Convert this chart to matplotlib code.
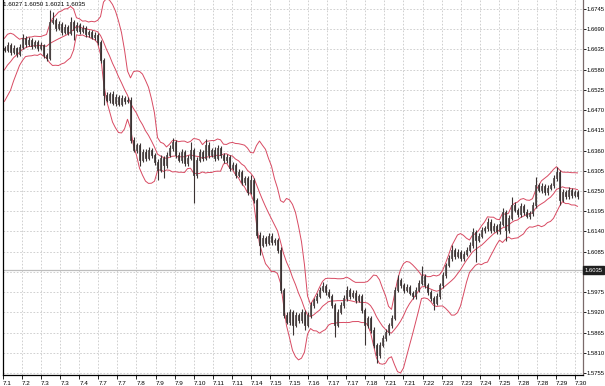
import numpy as np
import pandas as pd
import matplotlib
matplotlib.use("Agg")
import matplotlib.pyplot as plt
from matplotlib.patches import Rectangle
from matplotlib.collections import LineCollection, PatchCollection

# ---------------- data ----------------
date_labels = ['7.1', '7.2', '7.3', '7.3', '7.4', '7.7', '7.7', '7.8', '7.9', '7.9',
               '7.10', '7.11', '7.11', '7.14', '7.15', '7.15', '7.16', '7.17', '7.17',
               '7.18', '7.21', '7.21', '7.22', '7.23', '7.23', '7.24', '7.25', '7.28',
               '7.28', '7.29', '7.30']

price_ticks = [1.5755, 1.5810, 1.5865, 1.5920, 1.5975, 1.6030, 1.6085, 1.6140, 1.6195,
               1.6250, 1.6305, 1.6360, 1.6415, 1.6470, 1.6525, 1.6580, 1.6635, 1.6690,
               1.6745]

header_ohlc = [1.6027, 1.6050, 1.6021, 1.6035]
last_price = 1.6035

# closes before the visible window (only feed the Bollinger bands)
history_close = [1.6519, 1.6538, 1.6530, 1.6552, 1.6566, 1.6585, 1.6606, 1.6628, 1.6639]

close = [
    1.6634, 1.6647, 1.6628, 1.6639, 1.6623, 1.6642, 1.6666, 1.6650, 1.6661, 1.6644,
    1.6655, 1.6639, 1.6647, 1.6620, 1.6612, 1.6710, 1.6715, 1.6693, 1.6704, 1.6682,
    1.6696, 1.6680, 1.6710, 1.6688, 1.6702, 1.6685, 1.6693, 1.6677, 1.6682, 1.6669,
    1.6674, 1.6655, 1.6606, 1.6511, 1.6498, 1.6514, 1.6489, 1.6506, 1.6487, 1.6503,
    1.6495, 1.6498, 1.6389, 1.6362, 1.6375, 1.6334, 1.6356, 1.6340, 1.6362, 1.6348,
    1.6329, 1.6307, 1.6340, 1.6321, 1.6348, 1.6367, 1.6383, 1.6348, 1.6334, 1.6356,
    1.6326, 1.6340, 1.6362, 1.6294, 1.6334, 1.6356, 1.6340, 1.6375, 1.6348, 1.6362,
    1.6340, 1.6367, 1.6348, 1.6334, 1.6342, 1.6313, 1.6321, 1.6294, 1.6302, 1.6274,
    1.6285, 1.6247, 1.6280, 1.6226, 1.6130, 1.6103, 1.6122, 1.6109, 1.6128, 1.6111,
    1.6117, 1.6090, 1.5981, 1.5913, 1.5894, 1.5921, 1.5886, 1.5913, 1.5899, 1.5921,
    1.5886, 1.5913, 1.5940, 1.5954, 1.5964, 1.5981, 1.5992, 1.5975, 1.5964, 1.5940,
    1.5886, 1.5921, 1.5940, 1.5959, 1.5981, 1.5964, 1.5973, 1.5954, 1.5964, 1.5926,
    1.5886, 1.5905, 1.5872, 1.5831, 1.5804, 1.5831, 1.5850, 1.5866, 1.5886, 1.5905,
    1.5981, 1.6008, 1.5994, 1.5981, 1.5989, 1.5973, 1.5964, 1.5981, 1.6000, 1.6019,
    1.5994, 1.5975, 1.5959, 1.5945, 1.5964, 1.5994, 1.6022, 1.6049, 1.6068, 1.6090,
    1.6073, 1.6084, 1.6068, 1.6079, 1.6090, 1.6103, 1.6138, 1.6117, 1.6128, 1.6144,
    1.6149, 1.6166, 1.6144, 1.6155, 1.6141, 1.6160, 1.6193, 1.6144, 1.6177, 1.6212,
    1.6198, 1.6187, 1.6209, 1.6193, 1.6182, 1.6190, 1.6212, 1.6266, 1.6253, 1.6264,
    1.6247, 1.6258, 1.6266, 1.6285, 1.6302, 1.6226, 1.6247, 1.6236, 1.6253, 1.6239,
    1.6247, 1.6236,
]

# wick lengths in pips above the body top / below the body bottom
upper_wick = [
    6, 8, 5, 7, 4, 9, 11, 6, 8, 5,
    7, 5, 8, 4, 6, 33, 22, 6, 9, 5,
    8, 6, 14, 5, 7, 6, 8, 5, 7, 6,
    8, 5, 6, 7, 9, 6, 8, 7, 5, 9,
    6, 8, 7, 9, 6, 5, 8, 7, 9, 6,
    5, 8, 7, 6, 9, 8, 11, 5, 7, 9,
    6, 8, 22, 6, 8, 7, 6, 16, 8, 5,
    7, 9, 6, 5, 8, 6, 7, 5, 8, 6,
    7, 6, 14, 5, 6, 8, 9, 6, 8, 7,
    6, 5, 7, 6, 8, 7, 6, 9, 5, 8,
    6, 7, 8, 6, 9, 7, 11, 6, 8, 5,
    6, 8, 7, 9, 11, 6, 8, 7, 5, 6,
    7, 6, 5, 8, 6, 9, 7, 8, 6, 9,
    8, 14, 6, 7, 9, 5, 6, 8, 7, 27,
    6, 7, 5, 6, 8, 7, 9, 6, 8, 14,
    6, 8, 5, 7, 9, 8, 10, 6, 7, 8,
    6, 11, 7, 8, 5, 9, 11, 6, 8, 22,
    7, 6, 9, 5, 8, 6, 8, 22, 7, 9,
    6, 8, 7, 9, 14, 6, 8, 7, 9, 6,
    7, 5,
]
lower_wick = [
    7, 5, 8, 6, 9, 5, 7, 8, 6, 9,
    5, 8, 6, 9, 8, 6, 7, 8, 5, 9,
    6, 7, 5, 27, 6, 8, 5, 7, 9, 6,
    7, 8, 9, 27, 7, 8, 6, 9, 7, 5,
    8, 6, 9, 7, 8, 16, 6, 8, 5, 9,
    7, 27, 6, 35, 8, 6, 7, 9, 6, 8,
    9, 7, 6, 76, 8, 6, 9, 7, 8, 6,
    8, 6, 9, 7, 8, 9, 6, 8, 7, 9,
    8, 7, 6, 9, 8, 27, 6, 8, 7, 9,
    7, 8, 9, 8, 7, 9, 27, 6, 8, 7,
    14, 6, 9, 7, 8, 6, 7, 9, 6, 8,
    33, 7, 6, 8, 7, 9, 6, 8, 7, 9,
    54, 8, 9, 7, 22, 8, 6, 9, 7, 8,
    6, 7, 9, 8, 6, 7, 9, 8, 6, 7,
    8, 9, 7, 19, 6, 8, 7, 9, 6, 8,
    7, 6, 9, 8, 7, 6, 8, 60, 7, 6,
    8, 7, 9, 6, 8, 7, 6, 30, 8, 7,
    6, 9, 7, 8, 6, 9, 7, 8, 6, 9,
    7, 8, 6, 9, 7, 14, 6, 8, 7, 9,
    6, 8,
]

bb_period = 10
bb_dev = 2.0

# ---------------- derived series ----------------
close_arr = np.array(close)
open_arr = np.array([history_close[-1]] + close[:-1])
pip = 0.0001
high_arr = np.maximum(open_arr, close_arr) + np.array(upper_wick) * pip
low_arr = np.minimum(open_arr, close_arr) - np.array(lower_wick) * pip
n = len(close)
xs = np.arange(n)

s = pd.Series(history_close + close)
mid = s.rolling(bb_period).mean().to_numpy()[len(history_close):]
sd = s.rolling(bb_period).std(ddof=0).to_numpy()[len(history_close):]
upper = mid + bb_dev * sd
lower = mid - bb_dev * sd

# ---------------- figure ----------------
plt.rcParams['font.family'] = ['Liberation Sans', 'DejaVu Sans']
W, H = 605, 386
fig = plt.figure(figsize=(W / 100, H / 100), dpi=100)
fig.patch.set_facecolor('white')
ax = fig.add_axes([3 / W, (H - 375) / H, 580 / W, 375 / H])
ax.set_facecolor('white')

ax.set_xlim(-0.5, -0.5 + 580 / 3)
ax.set_ylim(1.57495, 1.67695)

grid_color = '#c9c9c9'
ax.set_yticks(price_ticks)
# the 1.6030 label sits under the current-price box, as on the reference
ax.set_yticklabels(['' if abs(v - last_price) < 0.001 else f'{v:.4f}' for v in price_ticks])
xt = [-0.5 + 19.07 * k / 3 for k in range(len(date_labels))]
ax.set_xticks(xt)
ax.set_xticklabels(date_labels)
for lbl in ax.get_xticklabels():
    lbl.set_ha('left')
ax.yaxis.tick_right()
ax.tick_params(axis='y', which='both', length=2, width=0.6, pad=0.8, labelsize=4.2,
               colors='black', direction='out')
ax.tick_params(axis='x', which='both', length=3, width=0.6, pad=1.5, labelsize=4.6,
               colors='black', direction='out')
ax.grid(True, color=grid_color, linestyle=(0, (2, 2)), linewidth=0.6)
ax.set_axisbelow(True)

ax.spines['top'].set_visible(False)
ax.spines['left'].set_color('black')
ax.spines['bottom'].set_color('black')
ax.spines['right'].set_color('#7a6a6a')
for side in ['left', 'bottom', 'right']:
    ax.spines[side].set_linewidth(0.9)

# current price line
ax.axhline(last_price, color='#bdbdbd', linewidth=0.9, zorder=1)

# Bollinger bands
band_color = '#d84a62'
ax.plot(xs, upper, color=band_color, linewidth=0.7, zorder=2)
ax.plot(xs, mid, color=band_color, linewidth=0.7, zorder=2)
ax.plot(xs, lower, color=band_color, linewidth=0.7, zorder=2)

# candles
bar_color = '#3b3333'
segs = [[(x, l), (x, h)] for x, l, h in zip(xs, low_arr, high_arr)]
ax.add_collection(LineCollection(segs, colors=bar_color, linewidths=0.8, zorder=3))
bw = 0.65
rects, faces = [], []
for x, o, c in zip(xs, open_arr, close_arr):
    lo, hi = min(o, c), max(o, c)
    rects.append(Rectangle((x - bw / 2, lo), bw, max(hi - lo, 0.00005)))
    faces.append('#a89e9e' if c > o else bar_color)
ax.add_collection(PatchCollection(rects, facecolors=faces, edgecolors=bar_color,
                                  linewidths=0.5, zorder=4))

# price box on the scale
ax.annotate(f'{last_price:.4f}', xy=(1, last_price), xycoords=ax.get_yaxis_transform(),
            xytext=(1.0, 0), textcoords='offset points', va='center', ha='left',
            fontsize=4.2, color='white', annotation_clip=False, zorder=10,
            bbox=dict(boxstyle='square,pad=0.25', fc='#202020', ec='#202020'))

# header OHLC
fig.text(3 / W, 1 - 5 / H, ' '.join(f'{v:.4f}' for v in header_ohlc),
         fontsize=4.5, va='center', ha='left', color='black')

fig.savefig('out.png', dpi=100, facecolor='white')
